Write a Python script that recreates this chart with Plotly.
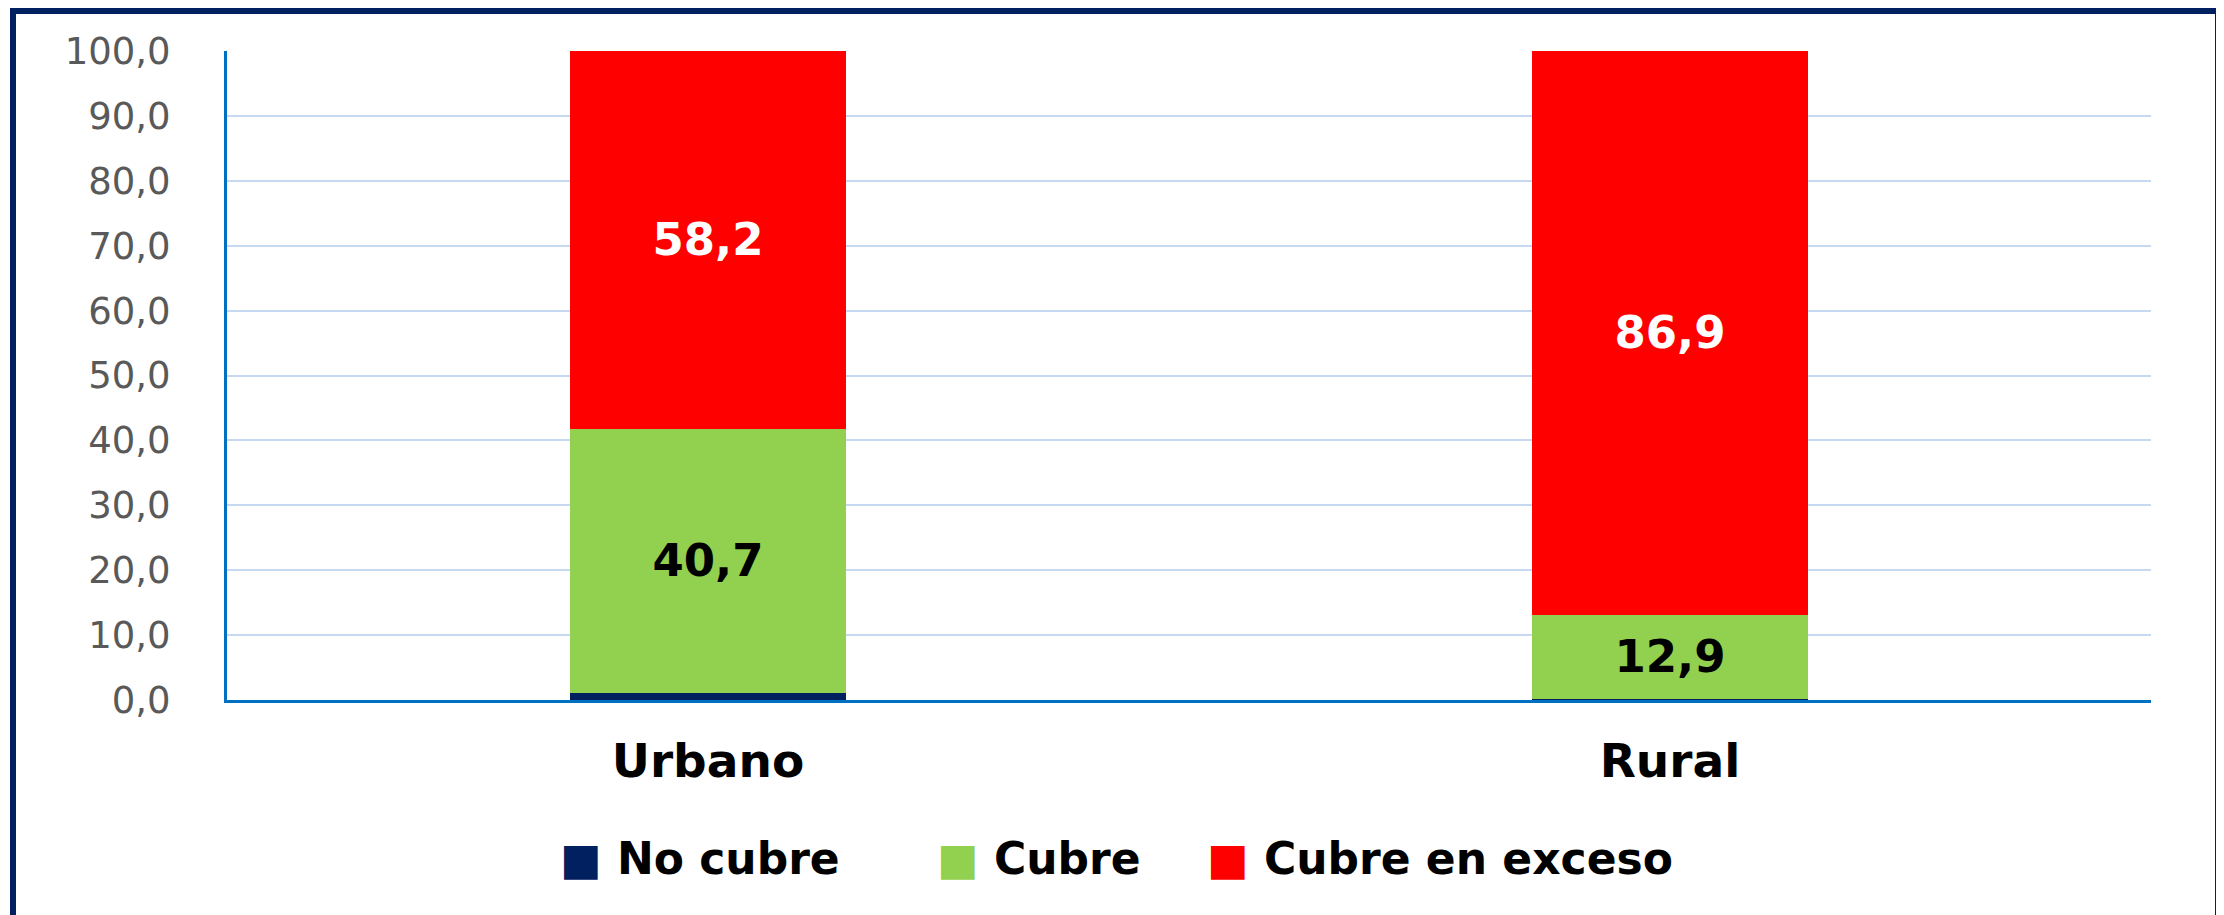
import plotly.graph_objects as go

areas = ["Urbano", "Rural"]
no_cubre = [1.1, 0.2]
cubre = [40.7, 12.9]
cubre_exceso = [58.2, 86.9]

series = [
    ("No cubre", no_cubre, "#002060", None),
    ("Cubre", cubre, "#92D050", "black"),
    ("Cubre en exceso", cubre_exceso, "#FF0000", "white"),
]

# the page body has an 8px margin, so the figure is drawn 8px in and down
OFF = 8
W, H = 2224 - OFF, 915 - OFF
ml, mr, mt, mb = 227 - OFF, 73, 51 - OFF, 215
pw, ph = W - ml - mr, H - mt - mb

def px_x(p):
    # page pixel -> paper x
    return (p - OFF - ml) / pw

def px_y(p):
    # page pixel -> paper y
    return (H - mb - (p - OFF)) / ph

legend_x = [520, 897, 1167]

fig = go.Figure()
for i, (name, vals, color, txtcol) in enumerate(series):
    fig.add_trace(go.Bar(
        x=areas, y=vals, name=name, showlegend=False,
        marker=dict(color=color, line=dict(width=0)),
        texttemplate="%{y:.1f}" if txtcol else "",
        textposition="inside", insidetextanchor="middle",
        textfont=dict(family="DejaVu Sans", size=45, color=txtcol or "white", weight="bold"),
        hoverinfo="skip",
    ))
    # legend entry: big coloured square drawn as a glyph, default swatch hidden
    lg = "legend" if i == 0 else "legend%d" % (i + 1)
    fig.add_trace(go.Scatter(
        x=[None], y=[None], mode="markers", legend=lg,
        name='<span style="color:%s">■</span> %s' % (color, name),
        marker=dict(symbol="square", size=1, color="rgba(0,0,0,0)"),
    ))
    fig.update_layout({lg: dict(
        x=px_x(legend_x[i]), xanchor="left", y=px_y(857), yanchor="middle",
        bgcolor="rgba(0,0,0,0)",
        font=dict(family="DejaVu Sans", size=44, color="black", weight="bold"),
    )})

fig.add_shape(type="rect", xref="paper", yref="paper",
              x0=px_x(13), x1=px_x(2218), y0=px_y(940), y1=px_y(11),
              line=dict(color="#002060", width=6), fillcolor="rgba(0,0,0,0)", layer="above")

fig.update_layout(
    width=W, height=H,
    margin=dict(l=ml, r=mr, t=mt, b=mb),
    barmode="stack", bargap=0.713,
    separators=",.",
    plot_bgcolor="white", paper_bgcolor="white",
    showlegend=True,
)
fig.update_yaxes(range=[0, 100], dtick=10, tickformat=".1f",
                 showgrid=True, gridcolor="#C6D9F1", gridwidth=2,
                 showline=True, linecolor="#0070C0", linewidth=3,
                 zeroline=False, ticklabelstandoff=46,
                 tickfont=dict(family="DejaVu Sans", size=37, color="#595959"))
fig.update_xaxes(showline=True, linecolor="#0070C0", linewidth=3,
                 ticklabelstandoff=18,
                 tickfont=dict(family="DejaVu Sans", size=47, color="black", weight="bold"))

fig.write_html("out.html")
